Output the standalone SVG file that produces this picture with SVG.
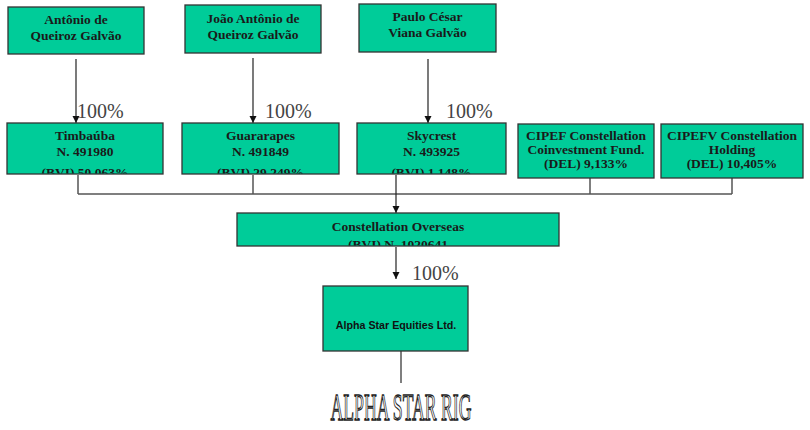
<svg xmlns="http://www.w3.org/2000/svg" width="810" height="430" viewBox="0 0 810 430">
<style>
.box{fill:#00CC99;stroke:#333;stroke-width:1.3}
.t{font-family:"Liberation Serif","Times New Roman",serif;font-weight:bold;font-size:13.5px;fill:#1a1a1a;text-anchor:middle}
.p{font-family:"Liberation Serif","Times New Roman",serif;font-size:20px;fill:#444}
.c{stroke:#222;stroke-width:1.2;fill:none}
.g{stroke:#555;stroke-width:1.5;fill:none}
</style>
<defs>
<marker id="ah" markerWidth="8" markerHeight="8" refX="7" refY="4" orient="auto" markerUnits="userSpaceOnUse">
<path d="M0,0.5 L7,4 L0,7.5 Z" fill="#111"/>
</marker>
<clipPath id="c1"><rect x="7" y="123" width="156" height="50.5"/></clipPath>
<clipPath id="c2"><rect x="182" y="123" width="157" height="50.5"/></clipPath>
<clipPath id="c3"><rect x="357" y="123" width="149" height="50.5"/></clipPath>
<clipPath id="c4"><rect x="237" y="213" width="322" height="32.5"/></clipPath>
</defs>

<g id="connectors">
<line class="c" x1="76" y1="59" x2="76" y2="123" marker-end="url(#ah)"/>
<line class="c" x1="253" y1="58" x2="253" y2="123" marker-end="url(#ah)"/>
<line class="c" x1="428" y1="59" x2="428" y2="123" marker-end="url(#ah)"/>
<line class="g" x1="78" y1="175" x2="78" y2="194"/>
<line class="g" x1="253" y1="175" x2="253" y2="194"/>
<line class="g" x1="590" y1="178" x2="590" y2="194"/>
<line class="g" x1="732" y1="178" x2="732" y2="194"/>
<line class="g" x1="78" y1="194" x2="732" y2="194"/>
<line class="c" x1="396" y1="175" x2="396" y2="213" marker-end="url(#ah)"/>
<line class="c" x1="396" y1="247" x2="396" y2="279" marker-end="url(#ah)"/>
<line class="g" x1="401" y1="351" x2="401" y2="383"/>
<text class="p" x="77" y="118">100%</text>
<text class="p" x="265" y="118">100%</text>
<text class="p" x="446" y="118">100%</text>
<text class="p" x="412" y="280">100%</text>
</g>

<g id="n1">
<rect class="box" x="8" y="7" width="136" height="47"/>
<text class="t" x="76" y="24">Antônio de</text>
<text class="t" x="76" y="40">Queiroz Galvão</text>
</g>
<g id="n2">
<rect class="box" x="185" y="5" width="136" height="48"/>
<text class="t" x="253" y="23">João Antônio de</text>
<text class="t" x="253" y="39">Queiroz Galvão</text>
</g>
<g id="n3">
<rect class="box" x="359" y="4" width="137" height="48"/>
<text class="t" x="427.5" y="21">Paulo César</text>
<text class="t" x="427.5" y="37">Viana Galvão</text>
</g>

<g id="timbauba">
<rect class="box" x="7" y="123" width="156" height="51"/>
<g clip-path="url(#c1)">
<text class="t" x="85" y="140">Timbaúba</text>
<text class="t" x="85" y="156">N. 491980</text>
<text class="t" x="85" y="176.5">(BVI) 50,063%</text>
</g>
</g>
<g id="guararapes">
<rect class="box" x="182" y="123" width="157" height="51"/>
<g clip-path="url(#c2)">
<text class="t" x="260.5" y="140">Guararapes</text>
<text class="t" x="260.5" y="156">N. 491849</text>
<text class="t" x="260.5" y="176.5">(BVI) 29,249%</text>
</g>
</g>
<g id="skycrest">
<rect class="box" x="357" y="123" width="149" height="51"/>
<g clip-path="url(#c3)">
<text class="t" x="431.5" y="140">Skycrest</text>
<text class="t" x="431.5" y="156">N. 493925</text>
<text class="t" x="431.5" y="176.5">(BVI) 1,148%</text>
</g>
</g>
<g id="cipef">
<rect class="box" x="518" y="124" width="136" height="54"/>
<text class="t" x="586" y="140">CIPEF Constellation</text>
<text class="t" x="586" y="154">Coinvestment Fund.</text>
<text class="t" x="586" y="168">(DEL) 9,133%</text>
</g>
<g id="cipefv">
<rect class="box" x="661" y="124" width="142" height="54"/>
<text class="t" x="732" y="140">CIPEFV Constellation</text>
<text class="t" x="732" y="154">Holding</text>
<text class="t" x="732" y="168">(DEL) 10,405%</text>
</g>

<g id="constellation">
<rect class="box" x="237" y="213" width="322" height="33"/>
<g clip-path="url(#c4)">
<text class="t" x="398" y="231">Constellation Overseas</text>
<text class="t" x="398" y="249">(BVI) N. 1020641</text>
</g>
</g>

<g id="alphastar">
<rect class="box" x="323" y="286" width="145" height="65"/>
<text x="396" y="329" font-family="'Liberation Sans',Arial,sans-serif" font-weight="bold" font-size="10.7" fill="#111" text-anchor="middle">Alpha Star Equities Ltd.</text>
</g>

<g id="rig">
<text transform="translate(401,420) scale(0.465,1)" x="0" y="0" font-family="'Liberation Serif','Times New Roman',serif" font-size="38" fill="#ffffff" stroke="#222" stroke-width="1.3" text-anchor="middle">ALPHA STAR RIG</text>
</g>
</svg>
